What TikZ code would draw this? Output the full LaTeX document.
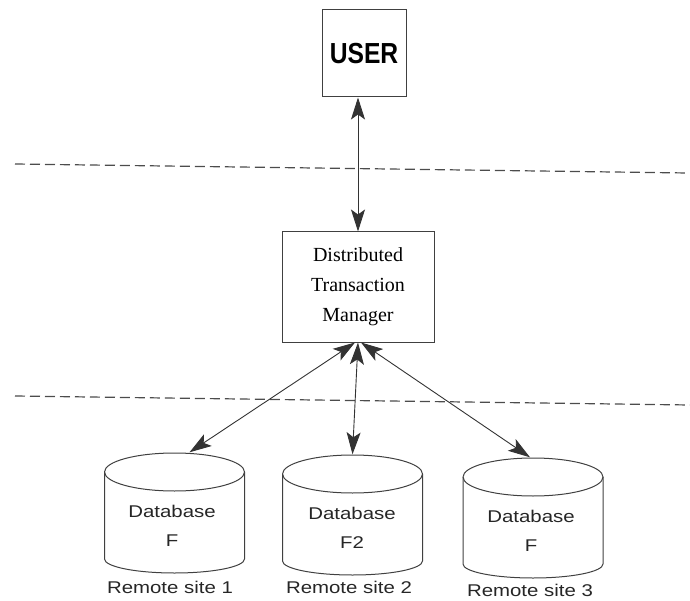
\documentclass[tikz,border=0pt]{standalone}
\usepackage{fontspec}
\setmainfont{Liberation Sans}
\newfontfamily\userfont{Liberation Sans}[FakeStretch=0.85]
\newfontfamily\dtmfont{Liberation Serif}
\newfontfamily\dbfont{Liberation Sans}[FakeStretch=1.2]
\usetikzlibrary{arrows.meta}

\begin{document}
\begin{tikzpicture}[x=1pt,y=1pt]

% definitions
\tikzstyle{userbox} = [rectangle, minimum width=84pt, minimum height=87pt, inner sep=0pt, draw=black!75, line width=1pt, font=\userfont\bfseries\fontsize{29}{32}\selectfont]

\tikzstyle{manager} = [rectangle, minimum width=152pt, minimum height=110pt, inner sep=0pt, align=center, draw=black!75, line width=1pt, font=\dtmfont\fontsize{20}{30}\selectfont]

\tikzstyle{database} = [rectangle, minimum width=141pt, minimum height=121pt, inner sep=0pt, path picture={
  \draw [black!75, line width=1pt] ([yshift=-19.5pt]path picture bounding box.north) ellipse [x radius=70pt, y radius=19pt];
  \draw [black!75, line width=1pt] ([xshift=0.5pt, yshift=-19.5pt]path picture bounding box.north west)
    -- ([xshift=0.5pt, yshift=14.5pt]path picture bounding box.south west)
    arc [start angle=180, end angle=360, x radius=70pt, y radius=14pt]
    -- ([xshift=-0.5pt, yshift=-19.5pt]path picture bounding box.north east);
}]

\tikzstyle{dbtext} = [align=center, inner sep=0pt, text=black!85, font=\dbfont\fontsize{17}{29}\selectfont]

\tikzstyle{site} = [inner sep=0pt, text=black!85, font=\dbfont\fontsize{17}{20}\selectfont]

\tikzstyle{layer} = [draw=black!70, line width=1.2pt, dash pattern=on 10pt off 5pt]

\tikzstyle{arrow} = [{Stealth[length=22pt,width=14pt,inset=5pt]}-{Stealth[length=22pt,width=14pt,inset=5pt]}, draw=black!80, line width=0.9pt]

\useasboundingbox (0,0) rectangle (690,-601);

% the graph
\node (user) [userbox] at (364,-53.5) {USER};

\node (dtm) [manager] at (358,-287) {Distributed\\Transaction\\Manager};

\node (db1) [database] at (174.5,-513) {};
\node (db2) [database] at (352.5,-515) {};
\node (db3) [database] at (533,-518) {};

\node (t1) [dbtext] at (172,-526) {Database\\F};
\node (t2) [dbtext] at (352,-528) {Database\\F2};
\node (t3) [dbtext] at (531,-531) {Database\\F};

\node (s1) [site] at (170,-587) {Remote site 1};
\node (s2) [site] at (349,-587) {Remote site 2};
\node (s3) [site] at (530,-590) {Remote site 3};

% layers
\draw [layer] (15,-164) -- (688,-173);
\draw [layer] (15,-396) -- (690,-405);

\draw [arrow] (dtm.north) -- (dtm.north |- user.south);
\draw [arrow] ([xshift=-3pt]dtm.south) -- ([xshift=15pt]db1.north);
\draw [arrow] (dtm.south) -- (db2.north);
\draw [arrow] ([xshift=3pt]dtm.south) -- ([xshift=-3pt]db3.north);

\end{tikzpicture}
\end{document}
